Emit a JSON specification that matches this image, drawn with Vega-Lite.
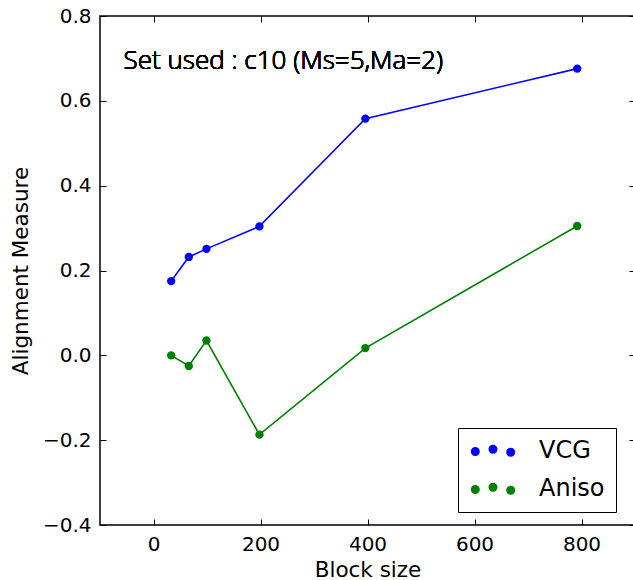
{
  "$schema": "https://vega.github.io/schema/vega-lite/v6.json",
  "autosize": "none",
  "width": 535,
  "height": 509,
  "padding": {"left": 100, "top": 16, "right": 0, "bottom": 55},
  "background": "white",
  "config": {
    "view": {"stroke": "#000000", "strokeWidth": 1.5},
    "font": "DejaVu Sans",
    "axis": {
      "domain": false,
      "grid": false,
      "tickColor": "#000000",
      "tickSize": -6,
      "tickWidth": 1,
      "labelPadding": 15,
      "labelFont": "DejaVu Sans",
      "labelFontSize": 20,
      "labelColor": "#000000",
      "titleFont": "DejaVu Sans",
      "titleFontSize": 21.5,
      "titleFontWeight": "normal",
      "titleColor": "#000000"
    }
  },
  "data": {
    "values": [
      {"block": 33, "value": 0.175, "method": "VCG"},
      {"block": 66, "value": 0.232, "method": "VCG"},
      {"block": 99, "value": 0.251, "method": "VCG"},
      {"block": 198, "value": 0.304, "method": "VCG"},
      {"block": 396, "value": 0.558, "method": "VCG"},
      {"block": 792, "value": 0.676, "method": "VCG"},
      {"block": 33, "value": 0.0, "method": "Aniso"},
      {"block": 66, "value": -0.025, "method": "Aniso"},
      {"block": 99, "value": 0.035, "method": "Aniso"},
      {"block": 198, "value": -0.187, "method": "Aniso"},
      {"block": 396, "value": 0.017, "method": "Aniso"},
      {"block": 792, "value": 0.305, "method": "Aniso"}
    ]
  },
  "layer": [
    {
      "mark": {"type": "line", "strokeWidth": 1.6},
      "encoding": {
        "x": {"field": "block", "type": "quantitative", "scale": {"domain": [-100, 900], "nice": false, "zero": false},
          "axis": {"orient": "bottom", "title": "Block size", "values": [0, 200, 400, 600, 800], "titlePadding": 5}},
        "y": {"field": "value", "type": "quantitative", "scale": {"domain": [-0.4, 0.8], "nice": false, "zero": false},
          "axis": {"orient": "left", "title": "Alignment Measure", "values": [-0.4, -0.2, 0, 0.2, 0.4, 0.6, 0.8], "labelExpr": "replace(format(datum.value, '.1f'), '-', '\u2212')", "titlePadding": 10}},
        "color": {"field": "method", "type": "nominal", "scale": {"domain": ["VCG", "Aniso"], "range": ["#0000ff", "#008000"]}},
        "detail": {"field": "method"}
      }
    },
    {
      "mark": {"type": "point", "filled": true, "size": 70, "opacity": 1, "strokeWidth": 0},
      "encoding": {
        "x": {"field": "block", "type": "quantitative",
          "axis": {"orient": "top", "title": null, "labels": false, "values": [0, 200, 400, 600, 800]}},
        "y": {"field": "value", "type": "quantitative",
          "axis": {"orient": "right", "title": null, "labels": false, "values": [-0.4, -0.2, 0, 0.2, 0.4, 0.6, 0.8]}},
        "color": {"field": "method", "type": "nominal",
          "legend": {
            "title": null,
            "orient": "none",
            "legendX": 358,
            "legendY": 412,
            "padding": 11,
            "strokeColor": "#000000",
            "fillColor": "#ffffff",
            "cornerRadius": 0,
            "labelFont": "DejaVu Sans",
            "labelFontSize": 24,
            "labelColor": "#000000",
            "labelOffset": 34,
            "symbolOffset": 12,
            "rowPadding": 14,
            "symbolSize": 576,
            "symbolStrokeWidth": 0,
            "symbolOpacity": 1,
            "symbolType": "M-1.85,0.05A0.375,0.375,0,1,0,-1.1,0.05A0.375,0.375,0,1,0,-1.85,0.05ZM-0.375,-0.15A0.375,0.375,0,1,0,0.375,-0.15A0.375,0.375,0,1,0,-0.375,-0.15ZM1.1,0.1A0.375,0.375,0,1,0,1.85,0.1A0.375,0.375,0,1,0,1.1,0.1Z"
          }}
      }
    },
    {
      "mark": {"type": "text", "font": "Open Sans", "fontSize": 26, "fontWeight": 300, "align": "left", "baseline": "alphabetic", "color": "#000000"},
      "encoding": {
        "x": {"datum": -56, "axis": null},
        "y": {"datum": 0.6745, "axis": null},
        "text": {"value": "Set used : c10 (Ms=5,Ma=2)"}
      }
    }
  ],
  "resolve": {"axis": {"x": "independent", "y": "independent"}}
}
